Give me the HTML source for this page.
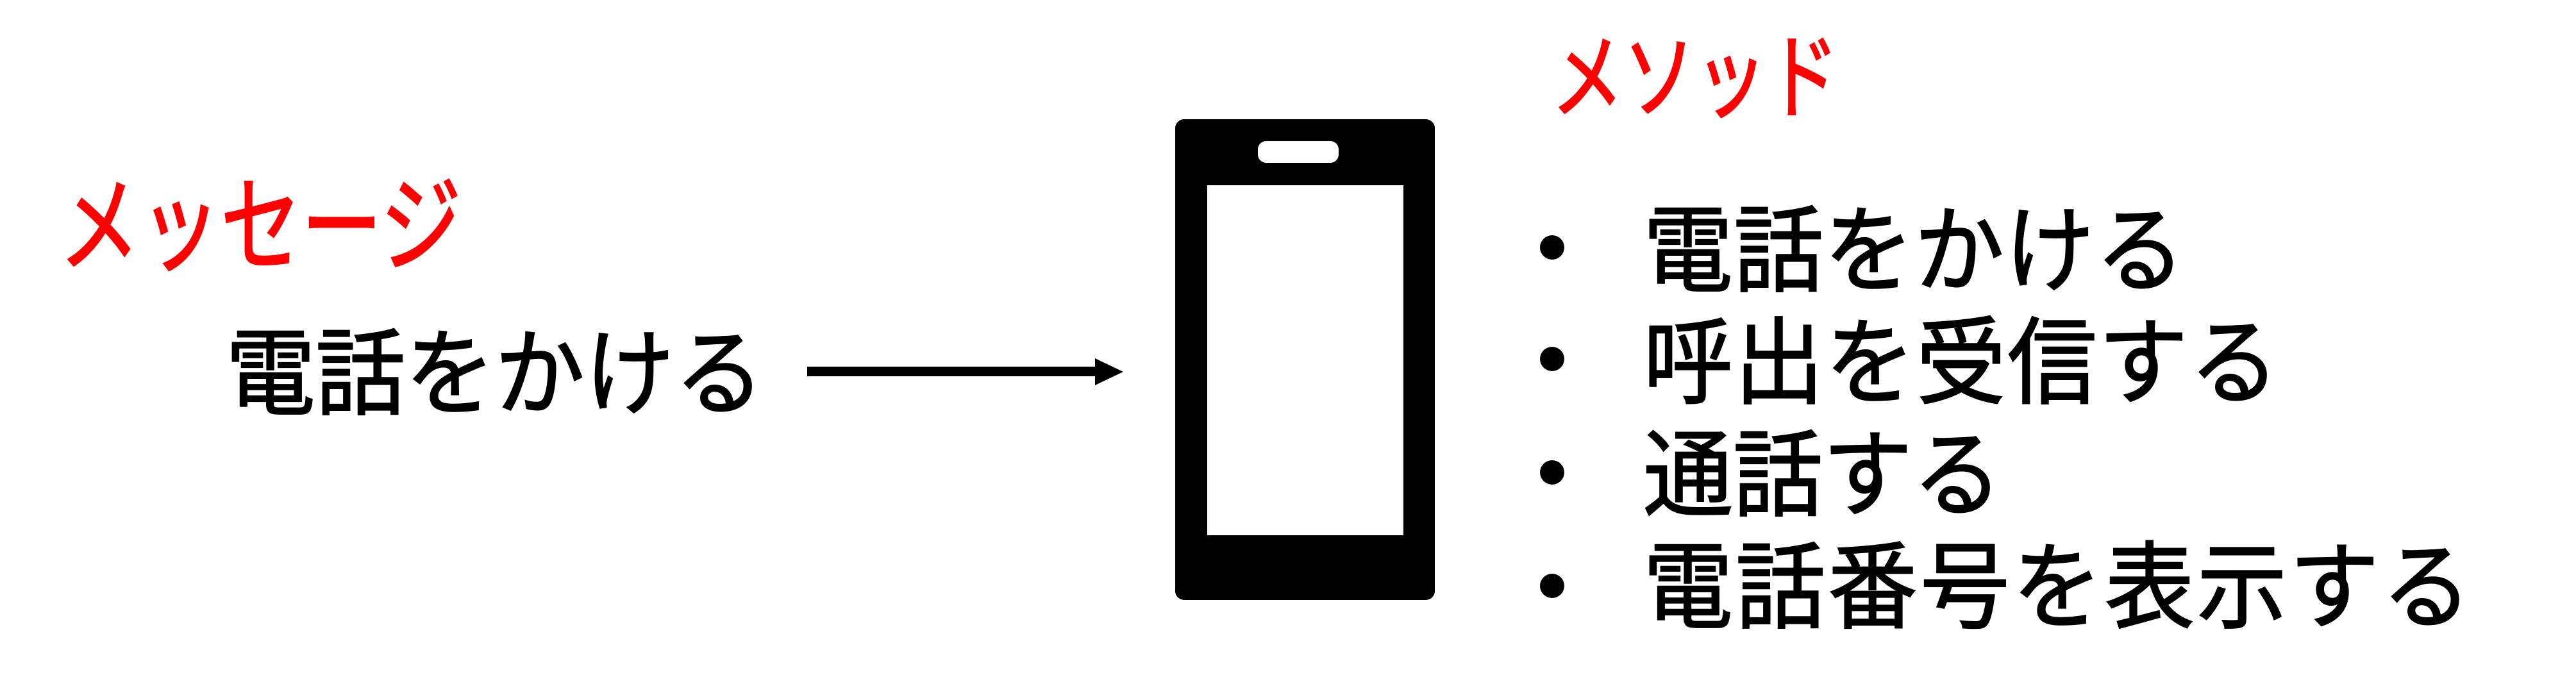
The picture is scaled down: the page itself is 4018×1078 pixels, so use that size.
<!DOCTYPE html>
<html><head><meta charset="utf-8"><style>
html,body{margin:0;padding:0;background:#fff;width:4018px;height:1078px;overflow:hidden;position:relative;font-family:"Liberation Sans","Noto Sans CJK JP",sans-serif;}
.t{position:absolute;line-height:1;white-space:nowrap;transform-origin:0 0;-webkit-text-stroke:2px currentColor;}
.red{color:#ff0000;}
.blk{color:#000;}
.k{transform:scaleY(1.3);}
.m{transform:scaleY(1.06);}
</style></head><body>
<div class="t red k" style="left:92px;top:272px;font-size:126px;">メッセージ</div>
<div class="t blk m" style="left:352px;top:510px;font-size:140px;">電話をかける</div>
<svg style="position:absolute;left:0;top:0" width="4018" height="1078">
  <g>
    <rect x="1259" y="572" width="455" height="15" fill="#000"/>
    <polygon points="1708,559 1752,580 1708,601" fill="#000"/>
  </g>
  <g>
    <rect x="1833" y="186" width="405" height="750" rx="14" fill="#000"/>
    <rect x="1883" y="289" width="306" height="546" fill="#fff"/>
    <rect x="1962" y="220" width="126" height="34" rx="13" fill="#fff"/>
  </g>
  <g>
    <ellipse cx="2421" cy="386" rx="19" ry="19" fill="#000"/>
    <ellipse cx="2421" cy="560" rx="19" ry="19" fill="#000"/>
    <ellipse cx="2421" cy="737" rx="19" ry="19" fill="#000"/>
    <ellipse cx="2421" cy="914" rx="19" ry="19" fill="#000"/>
  </g>
</svg>
<div class="t red k" style="left:2420px;top:50px;font-size:112px;">メソッド</div>
<div class="t blk m" style="left:2563px;top:318px;font-size:140px;letter-spacing:1px;">電話をかける</div>
<div class="t blk m" style="left:2563px;top:493px;font-size:140px;letter-spacing:2px;">呼出を受信する</div>
<div class="t blk m" style="left:2563px;top:668px;font-size:140px;">通話する</div>
<div class="t blk m" style="left:2563px;top:843px;font-size:140px;letter-spacing:4px;">電話番号を表示する</div>
</body></html>
